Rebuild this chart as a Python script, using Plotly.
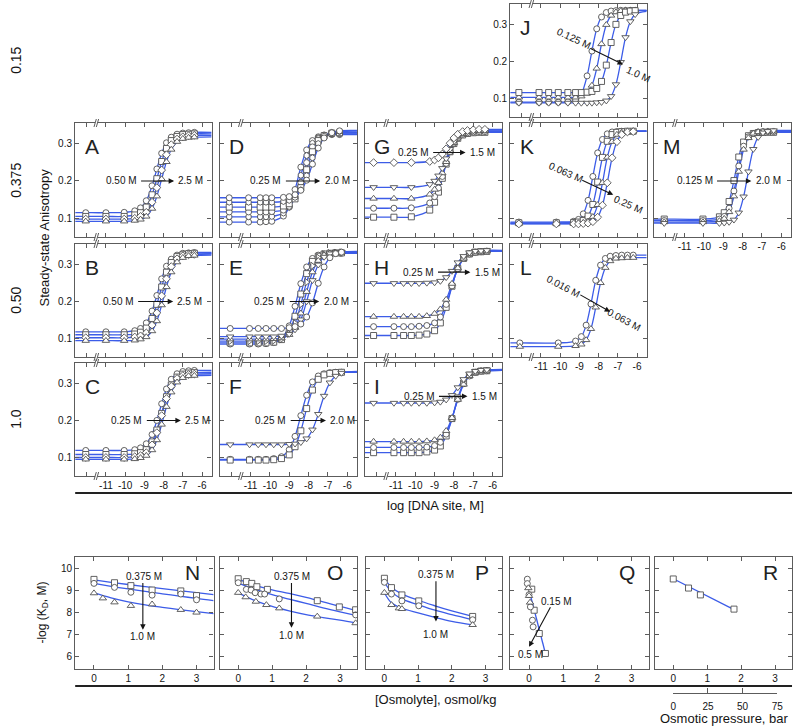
import plotly.graph_objects as go

# ---------------- anisotropy titrations (x = log [DNA site, M]) ----------------
A_x = [-12.6, -12.05, -11.0, -10.05, -9.5, -9.2, -8.9, -8.6, -8.35, -8.1, -7.85, -7.6, -7.3, -7.0, -6.7, -6.4, -5.5]
A_y = [
    [.115, .115, .115, .116, .120, .128, .147, .187, .232, .274, .302, .317, .325, .328, .329, .330, .330],
    [.105, .105, .105, .105, .109, .115, .130, .163, .206, .252, .287, .308, .319, .324, .325, .326, .326],
    [.098, .098, .098, .098, .100, .105, .116, .143, .182, .229, .270, .297, .312, .318, .321, .322, .322],
    [.092, .092, .092, .092, .094, .097, .105, .126, .159, .205, .251, .284, .305, .313, .316, .317, .318],
]
B_x = [-12.6, -12.05, -11.0, -10.05, -9.5, -9.2, -8.9, -8.6, -8.35, -8.1, -7.85, -7.6, -7.3, -7.0, -6.7, -6.4, -5.5]
B_y = [
    [.118, .118, .118, .118, .121, .127, .142, .174, .216, .261, .295, .314, .325, .330, .331, .332, .332],
    [.110, .110, .110, .110, .112, .117, .128, .154, .192, .239, .279, .305, .321, .326, .329, .330, .330],
    [.102, .102, .102, .102, .104, .107, .115, .136, .169, .215, .261, .294, .315, .323, .326, .327, .328],
    [.094, .094, .094, .094, .095, .098, .104, .120, .147, .190, .239, .279, .306, .318, .323, .324, .325],
]
C_x = [-12.6, -12.05, -11.0, -10.05, -9.5, -9.2, -8.9, -8.6, -8.35, -8.1, -7.85, -7.6, -7.3, -7.0, -6.7, -6.4, -5.5]
C_y = [
    [.119, .119, .119, .119, .121, .126, .137, .162, .200, .245, .285, .311, .326, .332, .334, .335, .335],
    [.108, .108, .108, .108, .110, .113, .121, .142, .174, .219, .264, .296, .317, .325, .328, .329, .330],
    [.100, .100, .100, .100, .102, .105, .113, .134, .167, .213, .259, .292, .313, .321, .324, .325, .326],
    [.095, .095, .095, .095, .096, .099, .105, .120, .147, .189, .237, .276, .303, .315, .320, .321, .322],
]
D_x = [-12.6, -12.1, -11.1, -10.5, -10.2, -9.9, -9.3, -9.0, -8.7, -8.4, -8.1, -7.8, -7.5, -7.2, -6.8, -6.4, -5.5]
D_y = [
    [.090, .090, .090, .090, .091, .092, .106, .131, .177, .237, .283, .308, .318, .322, .324, .324, .324],
    [.104, .104, .104, .104, .104, .105, .114, .129, .162, .215, .268, .301, .316, .322, .325, .326, .326],
    [.117, .117, .117, .117, .117, .118, .122, .132, .154, .196, .249, .291, .313, .323, .327, .328, .328],
    [.130, .130, .130, .130, .130, .130, .133, .139, .152, .182, .230, .278, .308, .321, .328, .329, .330],
    [.143, .143, .143, .143, .143, .143, .145, .148, .156, .176, .214, .262, .300, .320, .330, .332, .333],
    [.155, .155, .155, .155, .155, .155, .156, .158, .163, .175, .202, .245, .288, .315, .329, .334, .335],
]
E_x = [-12.6, -12.05, -11.05, -10.6, -10.2, -9.8, -9.4, -9.0, -8.7, -8.4, -8.1, -7.8, -7.5, -7.2, -6.9, -6.6, -6.3, -5.5]
E_y = [
    [.085, .085, .085, .085, .086, .089, .100, .134, .187, .248, .293, .316, .325, .328, .329, .330, .330, .330],
    [.088, .088, .088, .088, .088, .090, .097, .120, .160, .220, .275, .308, .322, .328, .330, .331, .331, .331],
    [.093, .093, .093, .093, .093, .094, .098, .113, .141, .192, .252, .296, .318, .327, .330, .331, .332, .332],
    [.098, .098, .098, .098, .098, .099, .101, .110, .129, .168, .226, .279, .310, .325, .330, .332, .333, .333],
    [.105, .105, .105, .105, .105, .105, .107, .112, .124, .151, .200, .257, .299, .320, .329, .332, .333, .334],
    [.127, .127, .127, .127, .127, .127, .127, .129, .132, .139, .158, .196, .249, .293, .318, .329, .333, .335],
]
F_x = [-12.6, -12.05, -11.05, -10.6, -10.2, -9.8, -9.4, -9.0, -8.7, -8.4, -8.1, -7.8, -7.5, -7.2, -6.9, -6.6, -6.3, -5.5]
F_y = [
    [.095, .095, .095, .095, .095, .097, .102, .121, .157, .213, .268, .304, .320, .326, .329, .330, .330, .330],
    [.093, .093, .093, .093, .093, .094, .097, .107, .129, .172, .232, .282, .311, .323, .327, .329, .330, .330],
    [.135, .135, .135, .135, .135, .135, .135, .136, .137, .141, .151, .175, .217, .266, .302, .320, .328, .332],
]
G_x = [-12.6, -12.15, -11.1, -10.2, -9.25, -9.0, -8.8, -8.6, -8.4, -8.2, -8.0, -7.8, -7.55, -7.3, -7.0, -6.7, -6.4, -5.5]
G_y = [
    [.103, .103, .103, .104, .122, .143, .170, .207, .245, .278, .300, .314, .323, .327, .329, .330, .330, .330],
    [.127, .127, .127, .128, .141, .158, .181, .212, .247, .278, .301, .315, .325, .329, .331, .332, .332, .332],
    [.153, .153, .153, .153, .164, .177, .195, .221, .251, .280, .302, .317, .326, .331, .333, .334, .334, .334],
    [.183, .183, .183, .183, .191, .200, .214, .234, .260, .285, .305, .319, .328, .333, .335, .336, .336, .336],
    [.249, .249, .249, .249, .252, .256, .262, .272, .286, .301, .315, .325, .332, .335, .337, .338, .338, .338],
]
H_x = [-12.6, -12.15, -11.1, -10.6, -10.2, -9.8, -9.4, -9.0, -8.7, -8.4, -8.1, -7.8, -7.5, -7.2, -6.9, -6.6, -6.3, -5.5]
H_y = [
    [.108, .108, .108, .108, .108, .109, .112, .121, .142, .184, .241, .289, .316, .328, .333, .334, .335, .335],
    [.132, .132, .132, .132, .132, .133, .135, .142, .158, .192, .242, .288, .316, .328, .332, .334, .335, .335],
    [.159, .159, .159, .159, .159, .159, .161, .167, .179, .205, .248, .290, .316, .328, .333, .335, .336, .336],
    [.249, .249, .249, .249, .249, .249, .250, .251, .255, .265, .282, .305, .322, .332, .336, .337, .338, .338],
]
I_x = [-12.6, -12.15, -11.1, -10.6, -10.2, -9.8, -9.4, -9.0, -8.7, -8.4, -8.1, -7.8, -7.5, -7.2, -6.9, -6.6, -6.3, -5.5]
I_y = [
    [.113, .113, .113, .113, .113, .113, .115, .120, .131, .158, .205, .261, .301, .322, .330, .333, .334, .335],
    [.127, .127, .127, .127, .127, .127, .128, .132, .141, .163, .205, .257, .299, .320, .330, .333, .334, .335],
    [.143, .143, .143, .143, .143, .143, .144, .147, .154, .172, .207, .256, .297, .320, .330, .334, .335, .336],
    [.247, .247, .247, .247, .247, .247, .247, .248, .250, .256, .268, .289, .311, .326, .333, .336, .337, .338],
]
J_x = [-12.6, -12.15, -11.1, -10.6, -10.1, -9.6, -9.2, -8.9, -8.6, -8.35, -8.1, -7.85, -7.6, -7.35, -7.1, -6.85, -6.6, -6.35, -6.1, -5.5]
J_y = [
    [.090, .090, .090, .090, .090, .091, .096, .113, .161, .228, .288, .320, .332, .336, .337, .338, .338, .338, .338, .338],
    [.103, .103, .103, .103, .103, .103, .103, .106, .114, .135, .181, .247, .299, .324, .333, .336, .337, .338, .338, .338],
    [.116, .116, .116, .116, .116, .116, .116, .116, .117, .119, .127, .146, .190, .251, .300, .324, .333, .336, .337, .337],
    [.088, .088, .088, .088, .088, .088, .088, .088, .088, .088, .089, .090, .094, .106, .138, .198, .265, .308, .327, .335],
]
K_x = [-12.6, -12.15, -10.2, -9.3, -9.05, -8.8, -8.55, -8.3, -8.05, -7.8, -7.55, -7.3, -7.05, -6.8, -6.5, -6.2, -5.5]
K_y = [
    [.090, .090, .090, .092, .097, .112, .148, .212, .275, .311, .326, .331, .332, .333, .333, .333, .333],
    [.088, .088, .088, .089, .090, .094, .106, .137, .197, .263, .306, .324, .330, .332, .333, .333, .333],
    [.086, .086, .086, .086, .087, .088, .092, .104, .136, .195, .263, .305, .324, .330, .332, .333, .333],
    [.085, .085, .085, .085, .085, .086, .087, .091, .103, .135, .195, .262, .305, .324, .331, .332, .333],
]
L_x = [-12.6, -12.1, -10.1, -9.2, -8.9, -8.65, -8.4, -8.15, -7.9, -7.65, -7.4, -7.1, -6.8, -6.5, -6.2, -5.5]
L_y = [
    [.088, .088, .088, .093, .105, .136, .193, .257, .298, .316, .322, .324, .325, .325, .325, .325],
    [.078, .078, .078, .080, .084, .096, .126, .184, .250, .291, .309, .316, .317, .318, .318, .318],
]
M_x = [-12.6, -12.05, -10.05, -9.2, -8.95, -8.7, -8.45, -8.2, -7.95, -7.7, -7.45, -7.2, -6.95, -6.7, -6.4, -5.5]
M_y = [
    [.098, .098, .098, .104, .115, .145, .201, .264, .304, .321, .327, .329, .330, .330, .330, .330],
    [.094, .094, .094, .098, .105, .127, .173, .240, .293, .318, .327, .331, .332, .332, .332, .332],
    [.090, .090, .090, .093, .099, .117, .159, .225, .284, .315, .327, .331, .332, .333, .333, .333],
    [.087, .087, .087, .087, .088, .090, .096, .115, .158, .225, .285, .317, .329, .333, .335, .335],
]
top_xticks = [-12, -11, -10, -9, -8, -7, -6]
top_xtext = ["", "-11", "-10", "-9", "-8", "-7", "-6"]
top_yticks = [0.1, 0.2, 0.3]
top_ytext = ["0.1", "0.2", "0.3"]

# ---------------- -log KD vs osmolyte ----------------
N_fit_x = [0, 0.5, 1.0, 1.5, 2.0, 2.5, 3.0, 3.5]
N_fit = [[9.47, 9.36, 9.26, 9.16, 9.07, 8.98, 8.89, 8.80],
         [9.31, 9.18, 9.06, 8.95, 8.84, 8.74, 8.63, 8.53],
         [8.88, 8.66, 8.48, 8.34, 8.23, 8.13, 8.04, 7.95]]
N_pts_x = [[0, 0.6, 1.08, 1.7, 2.54, 3.0], [0, 0.6, 1.08, 1.7, 2.54, 3.0], [0, 0.26, 0.6, 1.08, 1.7, 2.54, 3.0]]
N_pts_y = [[9.49, 9.34, 9.21, 9.01, 8.97, 8.76], [9.31, 9.13, 8.91, 8.78, 8.83, 8.57],
           [8.87, 8.64, 8.46, 8.30, 8.37, 8.12, 8.0]]
O_fit_x = [0, 0.5, 1.0, 1.5, 2.0, 2.5, 3.0, 3.5]
O_fit = [[9.50, 9.22, 9.02, 8.86, 8.68, 8.48, 8.27, 8.08],
         [9.32, 9.04, 8.80, 8.60, 8.41, 8.21, 8.03, 7.86],
         [8.88, 8.53, 8.27, 8.07, 7.90, 7.77, 7.65, 7.52]]
O_pts_x = [[0, 0.24, 0.4, 0.55, 0.86, 2.33, 2.98, 3.46], [0, 0.24, 0.38, 0.5, 0.67, 0.78, 1.21, 3.46],
           [0, 0.22, 0.52, 0.83, 1.21, 2.33, 3.46]]
O_pts_y = [[9.52, 9.39, 9.31, 9.16, 9.04, 8.53, 8.25, 8.12], [9.34, 9.04, 9.01, 8.89, 8.83, 8.83, 8.61, 7.89],
           [8.89, 8.69, 8.49, 8.34, 8.19, 7.82, 7.52]]
P_fit_x = [0, 0.2, 0.5, 1.0, 1.5, 2.0, 2.62]
P_fit = [[9.52, 9.15, 8.85, 8.55, 8.30, 8.07, 7.82],
         [9.35, 8.95, 8.62, 8.35, 8.10, 7.90, 7.67],
         [8.89, 8.45, 8.20, 7.98, 7.78, 7.60, 7.44]]
P_pts_x = [[0, 0.21, 0.52, 1.02, 2.62], [0, 0.21, 0.52, 1.02, 2.62], [0, 0.21, 0.43, 0.52, 2.62]]
P_pts_y = [[9.54, 9.12, 8.79, 8.52, 7.82], [9.36, 8.83, 8.52, 8.30, 7.67], [8.89, 8.34, 8.19, 8.16, 7.44]]
Q_fit_x = [0.02, 0.48]
Q_fit = [[8.9, 6.15]]
Q_pts_x = [[0.08, 0.15, 0.3, 0.48], [-0.05, -0.05, 0.0, 0.04, 0.1, 0.12], [-0.02, 0.0, 0.03]]
Q_pts_y = [[9.05, 8.1, 7.05, 6.15], [9.5, 9.3, 8.8, 8.25, 7.65, 7.35], [9.1, 8.75, 8.45]]
R_fit_x = [0, 1.79]
R_fit = [[9.52, 8.13]]
R_pts_x = [[0, 0.45, 0.8, 1.79]]
R_pts_y = [[9.51, 9.10, 8.79, 8.15]]
bot_xticks = [0, 1, 2, 3]
bot_yticks = [6, 7, 8, 9, 10]
bar_ticks = [0, 25, 50, 75]

# ---------------- styling / layout ----------------
W, H = 800, 726
FONT = "Liberation Sans, Arial, sans-serif"
BLUE = "#3c5ce8"
EDGE = "#505050"
FRAME = "#5c5c5c"
INK = "#141414"

def dx(x0, x1):
    return [x0 / W, x1 / W]

def dy(y0, y1):
    return [1 - y1 / H, 1 - y0 / H]

COLS = [(73, 211), (219, 358), (366, 505), (513, 651), (658, 797)]
ROWS = [(4, 117), (123, 237), (244, 357), (363, 476)]
BCOLS = [(73, 213), (219, 358), (367, 505), (513, 653), (659, 798)]
BROW = (557, 669)

S4 = ["circle", "square", "diamond", "triangle-up"]
top_panels = [
    ("J", 0, 3, J_x, J_y, ["circle", "triangle-up", "square", "triangle-down"], False, True),
    ("A", 1, 0, A_x, A_y, S4, False, True),
    ("D", 1, 1, D_x, D_y, ["circle", "hexagon", "circle", "square", "hexagon", "circle"], False, False),
    ("G", 1, 2, G_x, G_y, ["square", "circle", "triangle-up", "triangle-down", "diamond"], False, False),
    ("K", 1, 3, K_x, K_y, ["circle", "square", "triangle-up", "diamond"], False, False),
    ("M", 1, 4, M_x, M_y, ["square", "circle", "triangle-up", "triangle-down"], True, False),
    ("B", 2, 0, B_x, B_y, S4, False, True),
    ("E", 2, 1, E_x, E_y, ["circle", "square", "triangle-right", "triangle-up", "triangle-down", "circle"], False, False),
    ("H", 2, 2, H_x, H_y, ["square", "circle", "triangle-up", "triangle-down"], False, False),
    ("L", 2, 3, L_x, L_y, ["circle", "triangle-up"], True, False),
    ("C", 3, 0, C_x, C_y, S4, True, True),
    ("F", 3, 1, F_x, F_y, ["circle", "square", "triangle-down"], True, False),
    ("I", 3, 2, I_x, I_y, ["square", "circle", "triangle-up", "triangle-down"], True, False),
]
bot_panels = [
    ("N", 0, N_fit_x, N_fit, N_pts_x, N_pts_y, ["square", "circle", "triangle-up"], True),
    ("O", 1, O_fit_x, O_fit, O_pts_x, O_pts_y, ["square", "circle", "triangle-up"], False),
    ("P", 2, P_fit_x, P_fit, P_pts_x, P_pts_y, ["square", "circle", "triangle-up"], False),
    ("Q", 3, Q_fit_x, Q_fit, Q_pts_x, Q_pts_y, ["square", "circle", "triangle-up"], False),
    ("R", 4, R_fit_x, R_fit, R_pts_x, R_pts_y, ["square"], False),
]

# arrows: horizontal (left text, right text, tail x, head x, y)
h_arrows = {
    "A": ("0.50 M", "2.5 M", -9.25, -7.45, 0.2),
    "B": ("0.50 M", "2.5 M", -9.4, -7.5, 0.2),
    "C": ("0.25 M", "2.5 M", -8.95, -7.1, 0.2),
    "D": ("0.25 M", "2.0 M", -9.25, -7.4, 0.2),
    "E": ("0.25 M", "2.0 M", -9.05, -7.45, 0.2),
    "F": ("0.25 M", "2.0 M", -9.0, -7.1, 0.2),
    "G": ("0.25 M", "1.5 M", -9.15, -7.4, 0.276),
    "H": ("0.25 M", "1.5 M", -8.9, -7.15, 0.279),
    "I": ("0.25 M", "1.5 M", -8.85, -7.3, 0.265),
    "M": ("0.125 M", "2.0 M", -9.4, -7.55, 0.2),
}
# slanted: (text1, x1, y1, text2, x2, y2, tail, head, angle)
s_arrows = {
    "J": ("0.125 M", -9.28, 0.263, "1.0 M", -5.9, 0.166, (-8.5, 0.237), (-6.73, 0.192), 25),
    "K": ("0.063 M", -9.69, 0.223, "0.25 M", -6.45, 0.137, (-8.93, 0.204), (-7.24, 0.163), 24),
    "L": ("0.016 M", -9.84, 0.239, "0.063 M", -6.7, 0.151, (-9.03, 0.220), (-7.4, 0.172), 28),
}
# vertical / diagonal arrows in bottom row
b_arrows = {
    "N": ("0.375 M", 1.46, 9.64, "1.0 M", 1.43, 6.92, (1.43, 9.40), (1.43, 7.22)),
    "O": ("0.375 M", 1.59, 9.64, "1.0 M", 1.57, 6.95, (1.57, 9.40), (1.57, 7.31)),
    "P": ("0.375 M", 1.54, 9.72, "1.0 M", 1.53, 6.99, (1.53, 9.47), (1.53, 7.59)),
    "Q": ("0.15 M", 0.81, 8.49, "0.5 M", 0.04, 6.11, (0.65, 8.30), (0.0, 6.45)),
}

fig = go.Figure()
layout = dict(
    width=W, height=H, margin=dict(l=0, r=0, t=0, b=0),
    paper_bgcolor="white", plot_bgcolor="white", showlegend=False, hovermode=False,
    font=dict(family=FONT, size=10, color=INK),
)
annotations = []
shapes = []

def axis_common():
    return dict(showline=True, linecolor=FRAME, linewidth=1.3, mirror="ticks", ticks="inside",
                ticklen=4, tickwidth=1, tickcolor=FRAME, showgrid=False, zeroline=False,
                fixedrange=True, tickfont=dict(family=FONT, size=10, color=INK))

def marker(sym):
    return dict(symbol=sym, size=6 if "triangle" not in sym else 6.5, color="white",
                line=dict(color=EDGE, width=0.9))

def arrow(xr, yr, tail, head):
    return dict(text="", x=head[0], y=head[1], ax=tail[0], ay=tail[1], xref=xr, yref=yr,
                axref=xr, ayref=yr, showarrow=True, arrowhead=2, arrowsize=1, arrowwidth=1.1,
                arrowcolor=INK, standoff=0)

n = 0
for letter, r, c, xs, ys, syms, xl, yl in top_panels:
    n += 1
    sx = "" if n == 1 else str(n)
    xr, yr = "x" + sx, "y" + sx
    for yv in ys:
        fig.add_trace(go.Scatter(x=xs, y=yv, mode="lines", line=dict(color=BLUE, width=1.3, shape="spline"),
                                 xaxis=xr, yaxis=yr, hoverinfo="skip"))
    for yv, sym in zip(ys, syms):
        fig.add_trace(go.Scatter(x=xs[1:-1], y=yv[1:-1], mode="markers", marker=marker(sym),
                                 xaxis=xr, yaxis=yr, hoverinfo="skip"))
    xa = axis_common()
    xa.update(domain=dx(*COLS[c]), anchor=yr, range=[-12.6, -5.5], tickvals=top_xticks,
              ticktext=top_xtext, showticklabels=xl)
    ya = axis_common()
    ya.update(domain=dy(*ROWS[r]), anchor=xr, range=[0.05, 0.355], tickvals=top_yticks,
              ticktext=top_ytext, showticklabels=yl)
    layout["xaxis" + sx] = xa
    layout["yaxis" + sx] = ya
    annotations.append(dict(text=letter, xref=xr + " domain", yref=yr + " domain", x=0.055, y=0.79,
                            xanchor="left", yanchor="middle", showarrow=False,
                            font=dict(family=FONT, size=21, color="#222")))
    # axis breaks
    for yd in (0.0, 1.0):
        shapes.append(dict(type="rect", xref=xr, yref=yr + " domain", x0=-11.555, x1=-11.445,
                           y0=yd - 0.014, y1=yd + 0.014, fillcolor="white", line=dict(width=0), layer="above"))
        for off in (0.0, 0.12):
            shapes.append(dict(type="line", xref=xr, yref=yr + " domain", x0=-11.62 + off, x1=-11.50 + off,
                               y0=yd - 0.035, y1=yd + 0.035, line=dict(color=FRAME, width=1), layer="above"))
    if letter in h_arrows:
        t1, t2, tail, head, yy = h_arrows[letter]
        annotations.append(arrow(xr, yr, (tail, yy), (head, yy)))
        annotations.append(dict(text=t1, x=tail - 0.05, y=yy, xref=xr, yref=yr, xanchor="right", yanchor="middle",
                                showarrow=False, font=dict(family=FONT, size=10, color=INK)))
        annotations.append(dict(text=t2, x=head + 0.12, y=yy, xref=xr, yref=yr, xanchor="left", yanchor="middle",
                                showarrow=False, font=dict(family=FONT, size=10, color=INK)))
    if letter in s_arrows:
        t1, x1, y1, t2, x2, y2, tail, head, ang = s_arrows[letter]
        annotations.append(arrow(xr, yr, tail, head))
        for t, xx, yy in ((t1, x1, y1), (t2, x2, y2)):
            annotations.append(dict(text=t, x=xx, y=yy, xref=xr, yref=yr, textangle=ang, showarrow=False,
                                    font=dict(family=FONT, size=10, color=INK)))

for letter, c, fx, fits, pxs, pys, syms, yl in bot_panels:
    n += 1
    sx = str(n)
    xr, yr = "x" + sx, "y" + sx
    for fy in fits:
        fig.add_trace(go.Scatter(x=fx, y=fy, mode="lines", line=dict(color=BLUE, width=1.3, shape="spline"),
                                 xaxis=xr, yaxis=yr, hoverinfo="skip"))
    for xx, yy, sym in zip(pxs, pys, syms):
        fig.add_trace(go.Scatter(x=xx, y=yy, mode="markers", marker=marker(sym), xaxis=xr, yaxis=yr,
                                 hoverinfo="skip"))
    xa = axis_common()
    xa.update(domain=dx(*BCOLS[c]), anchor=yr, range=[-0.55, 3.5], tickvals=bot_xticks)
    ya = axis_common()
    ya.update(domain=dy(*BROW), anchor=xr, range=[5.45, 10.5], tickvals=bot_yticks, showticklabels=yl)
    layout["xaxis" + sx] = xa
    layout["yaxis" + sx] = ya
    annotations.append(dict(text=letter, xref=xr + " domain", yref=yr + " domain", x=0.915, y=0.86,
                            xanchor="right", yanchor="middle", showarrow=False,
                            font=dict(family=FONT, size=21, color="#222")))
    if letter in b_arrows:
        t1, x1, y1, t2, x2, y2, tail, head = b_arrows[letter]
        annotations.append(arrow(xr, yr, tail, head))
        for t, xx, yy in ((t1, x1, y1), (t2, x2, y2)):
            annotations.append(dict(text=t, x=xx, y=yy, xref=xr, yref=yr, showarrow=False,
                                    font=dict(family=FONT, size=10, color=INK)))

# osmotic pressure scale under R
n += 1
sx = str(n)
fig.add_trace(go.Scatter(x=[0], y=[0], mode="markers", marker=dict(opacity=0), xaxis="x" + sx, yaxis="y" + sx,
                         hoverinfo="skip"))
layout["xaxis" + sx] = dict(domain=dx(678, 783), anchor="y" + sx, range=[0, 75], tickvals=bar_ticks,
                            showline=True, linecolor=FRAME, linewidth=1.3, ticks="inside", ticklen=5,
                            tickcolor=FRAME, showgrid=False, zeroline=False, fixedrange=True,
                            ticklabelstandoff=4, tickfont=dict(family=FONT, size=10, color=INK))
layout["yaxis" + sx] = dict(domain=dy(689, 693), anchor="x" + sx, visible=False, range=[0, 1], fixedrange=True)

# separators
for yy in (493, 686):
    shapes.append(dict(type="line", xref="paper", yref="paper", x0=73 / W, x1=798 / W, y0=1 - yy / H,
                       y1=1 - yy / H, line=dict(color="#222", width=2)))

# global labels
def plab(text, x, y, size=13, angle=0):
    annotations.append(dict(text=text, xref="paper", yref="paper", x=x / W, y=1 - y / H, showarrow=False,
                            textangle=angle, xanchor="center", yanchor="middle",
                            font=dict(family=FONT, size=size, color=INK)))

for t, yy in (("0.15", 60), ("0.375", 180), ("0.50", 300), ("1.0", 419)):
    plab(t, 13, yy, size=14, angle=-90)
plab("Steady-state Anisotropy", 41, 238, size=13, angle=-90)
plab("log [DNA site, M]", 437, 505, size=13)
plab("-log (K<sub>D</sub>, M)", 40, 613, size=12, angle=-90)
plab("[Osmolyte], osmol/kg", 437, 699, size=13)
plab("Osmotic pressure, bar", 730, 718, size=13)

layout["annotations"] = annotations
layout["shapes"] = shapes
fig.update_layout(**layout)
fig.write_html("out.html", config={"displayModeBar": False},
               post_script="document.body.style.margin='0';document.body.style.padding='0';"
                           "document.body.style.overflow='hidden';")
